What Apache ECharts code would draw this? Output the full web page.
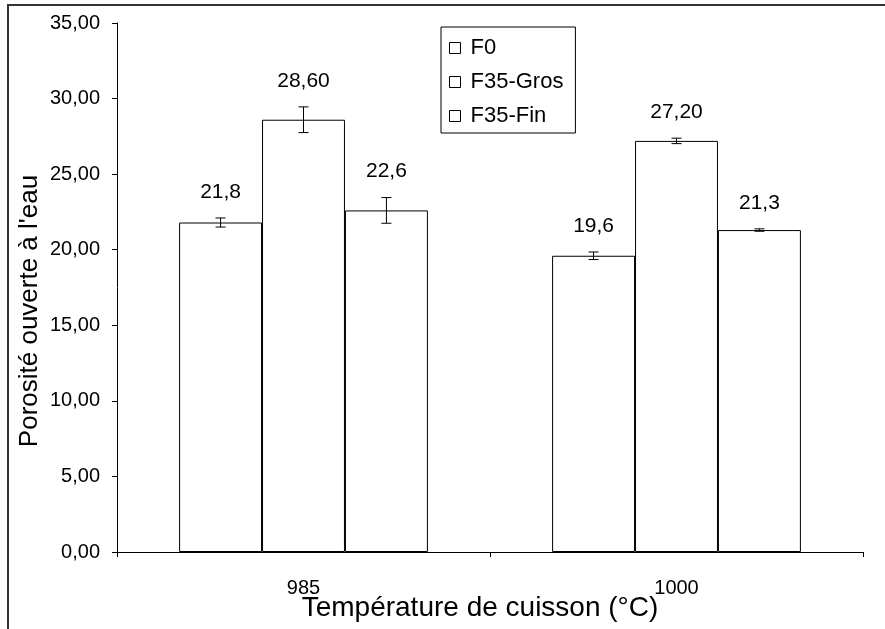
<!DOCTYPE html>
<html>
<head>
<meta charset="utf-8">
<script src="https://cdn.jsdelivr.net/npm/echarts@6/dist/echarts.min.js"></script>
<style>html,body{margin:0;padding:0;background:#fff;}#c{width:885px;height:629px;}</style>
</head>
<body>
<div id="c"></div>
<script>
var categories = ['985', '1000'];
var seriesNames = ['F0', 'F35-Gros', 'F35-Fin'];
var f0Values = [21.8, 19.6];
var grosValues = [28.6, 27.2];
var finValues = [22.6, 21.3];
var f0Errors = [0.3, 0.25];
var grosErrors = [0.85, 0.18];
var finErrors = [0.85, 0.08];
var f0Labels = ['21,8', '19,6'];
var grosLabels = ['28,60', '27,20'];
var finLabels = ['22,6', '21,3'];

var allValues = [f0Values, grosValues, finValues];
var allErrors = [f0Errors, grosErrors, finErrors];
var allLabels = [f0Labels, grosLabels, finLabels];

var FONT = 'Liberation Sans, Arial, sans-serif';
var CAT_GAP = 0.333;

var chart = echarts.init(document.getElementById('c'), null, {renderer: 'canvas'});

function errData(si) {
  return categories.map(function (c, i) {
    return [i, allValues[si][i], allErrors[si][i]];
  });
}

function makeErrRender(si) {
  return function (params, api) {
    var ci = api.value(0);
    var val = api.value(1);
    var err = api.value(2);
    var band = api.size([1, 0])[0];
    var bw = band * (1 - CAT_GAP) / 3;
    var center = api.coord([ci, val]);
    var x = center[0] + (si - 1) * bw;
    var yTop = api.coord([ci, val + err])[1];
    var yBot = api.coord([ci, val - err])[1];
    var cap = 5;
    var st = {stroke: '#000', lineWidth: 1};
    return {
      type: 'group',
      children: [
        {type: 'line', shape: {x1: x, y1: yTop, x2: x, y2: yBot}, style: st},
        {type: 'line', shape: {x1: x - cap, y1: yTop, x2: x + cap, y2: yTop}, style: st},
        {type: 'line', shape: {x1: x - cap, y1: yBot, x2: x + cap, y2: yBot}, style: st},
        {type: 'text', style: {
          text: allLabels[si][ci], x: x, y: yTop - 26,
          align: 'center', verticalAlign: 'middle',
          font: '21px ' + FONT, fill: '#000'
        }}
      ]
    };
  };
}

var series = [];
seriesNames.forEach(function (name, si) {
  series.push({
    name: name,
    type: 'bar',
    data: allValues[si],
    barGap: '0%',
    barCategoryGap: (CAT_GAP * 100) + '%',
    itemStyle: {color: '#fff', borderColor: '#000', borderWidth: 1},
    emphasis: {disabled: true},
    silent: true
  });
});
seriesNames.forEach(function (name, si) {
  series.push({
    type: 'custom',
    name: name + '-err',
    data: errData(si),
    renderItem: makeErrRender(si),
    silent: true,
    z: 5
  });
});

var option = {
  backgroundColor: '#fff',
  animation: false,
  grid: {left: 117, right: 22, top: 23, bottom: 77, containLabel: false},
  legend: {
    data: seriesNames,
    orient: 'vertical',
    left: 441,
    top: 27,
    padding: [10, 12, 6, 8],
    itemGap: 12,
    icon: 'rect',
    itemWidth: 11,
    itemHeight: 11,
    borderColor: '#000',
    borderWidth: 1,
    backgroundColor: '#fff',
    itemStyle: {color: '#fff', borderColor: '#000', borderWidth: 1},
    textStyle: {fontSize: 22, fontFamily: FONT, color: '#000', padding: [0, 0, 0, 5]},
    selectedMode: false
  },
  xAxis: {
    type: 'category',
    data: categories,
    boundaryGap: true,
    axisLine: {lineStyle: {color: '#000', width: 1}},
    axisTick: {show: true, length: 5, lineStyle: {color: '#000'}},
    axisLabel: {fontSize: 20, fontFamily: FONT, color: '#000', margin: 26}
  },
  yAxis: {
    type: 'value',
    min: 0,
    max: 35,
    interval: 5,
    splitLine: {show: false},
    axisLine: {show: true, lineStyle: {color: '#000', width: 1}},
    axisTick: {show: true, length: 5, lineStyle: {color: '#000'}},
    axisLabel: {
      fontSize: 20, fontFamily: FONT, color: '#000', margin: 17,
      formatter: function (v) { return v.toFixed(2).replace('.', ','); }
    }
  },
  graphic: [
    {type: 'rect', shape: {x: 8, y: 5, width: 1200, height: 1200},
     style: {fill: 'none', stroke: '#333', lineWidth: 2}, silent: true, z: -1},
    {type: 'text', x: 30, y: 311, rotation: Math.PI / 2,
     style: {text: "Porosité ouverte à l'eau", font: '26px ' + FONT, fill: '#000',
             align: 'center', verticalAlign: 'middle'}},
    {type: 'text', x: 480, y: 608,
     style: {text: 'Température de cuisson (°C)', font: '28px ' + FONT, fill: '#000',
             align: 'center', verticalAlign: 'middle'}}
  ],
  series: series
};
chart.setOption(option);
</script>
</body>
</html>
